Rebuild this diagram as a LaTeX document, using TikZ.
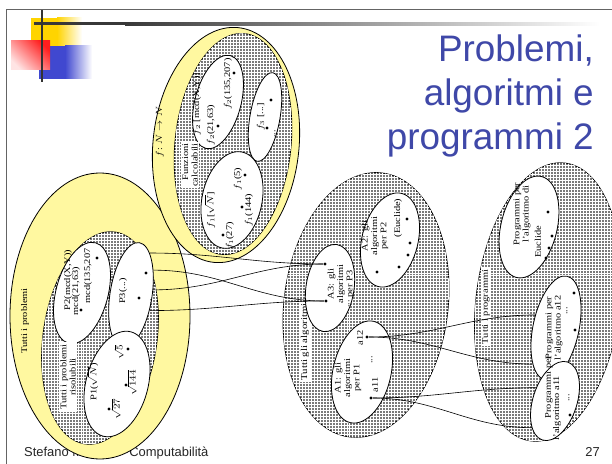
\documentclass[tikz,border=0pt]{standalone}
\usepackage{fontspec}
\setmainfont{Liberation Serif}
\newfontfamily\slidefont{Liberation Sans}
\usetikzlibrary{shapes.geometric,patterns}

\definecolor{ringyellow}{RGB}{255,248,160}
\definecolor{titleblue}{RGB}{63,72,168}
\definecolor{decoyellow}{RGB}{255,212,0}
\definecolor{decoblue}{RGB}{64,72,208}
\definecolor{decored}{RGB}{255,30,30}
\definecolor{framegray}{RGB}{100,100,100}

\newcommand\fsz[1]{\fontsize{#1}{1.08\dimexpr #1pt\relax}\selectfont}

\begin{document}
\begin{tikzpicture}[x=1bp,y=-1bp,
  set/.style={ellipse, draw=black, line width=0.8bp, inner sep=0pt},
  ring/.style={set, fill=ringyellow},
  hatch/.style={set, fill=black!52, postaction={pattern=grid, pattern color=white}},
  sub/.style={set, fill=white},
  lbl/.style={rotate=90, xscale=1.2, inner sep=0.5bp, font=\fsz{8.7}, align=center},
  box/.style={lbl, fill=white, inner sep=1.5bp},
  dot/.style={circle, fill=black, inner sep=0pt, minimum size=3.2bp},
  link/.style={draw=black, line width=0.6bp},
]
\clip (0,0) rectangle (612,464);
\fill[white] (0,0) rectangle (612,464);

% slide frame and corner ornament
\draw[framegray, line width=1bp] (6,464) -- (6,10) -- (612,10);
\fill[decoyellow] (31,18) rectangle (57,47);
\shade[left color=decoyellow, right color=white] (57,18) rectangle (82,47);
\fill[decoblue] (39,46) rectangle (65,79);
\shade[left color=decoblue, right color=white] (65,46) rectangle (92,79);
\shade[top color=decored, bottom color=decored!12, shading angle=-45] (11,41) rectangle (50,70);
\fill[black!78] (34,22.5) rectangle (125,25.5);
\shade[left color=black!78, right color=white] (125,22.5) rectangle (600,25.5);
\fill[black!80] (40.8,10) rectangle (43.4,82);

% title
\node[anchor=base east, font=\slidefont\fsz{37}, text=titleblue, inner sep=0pt] (title1) at (594,62) {Problemi,};
\node[anchor=base east, font=\slidefont\fsz{37}, text=titleblue, inner sep=0pt] (title2) at (594,106) {algoritmi e};
\node[anchor=base east, font=\slidefont\fsz{37}, text=titleblue, inner sep=0pt] (title3) at (594,150) {programmi 2};

% footer
\node[anchor=base west, font=\slidefont\fsz{13}, text=black!85, inner sep=0pt] (footer) at (24,456) {Stefano Mizzaro - Computabilità};
\node[anchor=base east, font=\slidefont\fsz{13}, text=black!85, inner sep=0pt] (pagenum) at (600,456) {27};

% outer sets
\node[ring, minimum width=180bp, minimum height=286bp] (pAll) at (100,316) {};
\node[hatch, minimum width=114bp, minimum height=214bp, rotate=-8] (pSol) at (100,338) {};
\node[ring, minimum width=146bp, minimum height=236bp, rotate=-6] (fAll) at (226,145) {};
\node[hatch, minimum width=116bp, minimum height=222bp, rotate=-6] (fComp) at (233,144) {};
\node[hatch, minimum width=164bp, minimum height=266bp, rotate=-7] (aAll) at (366,305) {};
\node[hatch, minimum width=144bp, minimum height=280bp, rotate=-7] (gAll) at (548,302) {};

\node[lbl] (pAllLab) at (25,321) {Tutti i problemi};
\node[lbl] (fAllLab) at (160,132) {$f$: $N\rightarrow N$};
\node[box, font=\fsz{9}] (aLab) at (305,342) {Tutti gli algoritmi};

% inner sets
\node[sub, minimum width=46bp, minimum height=96bp, rotate=-15] (f2) at (218,102) {};
\node[sub, minimum width=30bp, minimum height=90bp, rotate=-10] (f3) at (265,117) {};
\node[sub, minimum width=60bp, minimum height=98bp, rotate=-12] (f1) at (232,200) {};
\node[sub, minimum width=52bp, minimum height=104bp, rotate=-15] (p2) at (82,293) {};
\node[sub, minimum width=42bp, minimum height=106bp, rotate=-9] (p3) at (131,295) {};
\node[sub, minimum width=62bp, minimum height=108bp, rotate=-15] (p1) at (117,384) {};
\node[sub, minimum width=56bp, minimum height=96bp, rotate=-14] (a2) at (390,240) {};
\node[sub, minimum width=48bp, minimum height=88bp, rotate=-9] (a3) at (330,288) {};
\node[sub, minimum width=58bp, minimum height=104bp, rotate=-13] (a1) at (362,372) {};
\node[sub, minimum width=56bp, minimum height=104bp, rotate=-14] (gE) at (529,227) {};
\node[sub, minimum width=46bp, minimum height=106bp, rotate=-12] (g12) at (556,328) {};
\node[sub, minimum width=44bp, minimum height=82bp, rotate=-18] (g11) at (555,401) {};

\node[box, align=right] (fLab) at (190,165) {Funzioni\\calcolabili};
\node[box] (pLab) at (68,377) {Tutti i problemi\\risolubili};
\node[box] (gLab) at (486,307) {Tutti i programmi};

% computable functions
\node[lbl] (f2a) at (197,104) {$f_2$ [mcd(X,Y)]};
\node[lbl] (f2b) at (211,125) {$f_2$(21,63)};
\node[lbl] (f2c) at (228,84) {$f_2$(135,207)};
\node[dot] (f2d1) at (218,126) {};
\node[dot] (f2d2) at (234,73) {};
\node[lbl] (f3a) at (261,117) {$f_3$ [...]};
\node[dot] (f3d1) at (271,100) {};
\node[dot] (f3d2) at (267,128) {};
\node[lbl] (f3b) at (275,134) {...};
\node[lbl] (f1a) at (210,210) {$f_1$[$\sqrt{N}$]};
\node[lbl] (f1b) at (230,236) {$f_1$(27)};
\node[dot] (f1d1) at (223,235) {};
\node[lbl] (f1c) at (249,210) {$f_1$(144)};
\node[dot] (f1d2) at (242,207) {};
\node[lbl] (f1e) at (238,179) {$f_1$(5)};
\node[dot] (f1d3) at (245,175) {};

% problems
\node[lbl] (p2a) at (68,280) {P2(mcd(X,Y))};
\node[lbl] (p2b) at (76,291) {mcd(21,63)};
\node[lbl] (p2c) at (88,276) {mcd(135,207};
\node[dot] (p2d1) at (81,310) {};
\node[dot] (p2d2) at (97,258) {};
\node[lbl] (p3a) at (123,291) {P3(...)};
\node[dot] (p3d1) at (146,273) {};
\node[dot] (p3d2) at (139,298) {};
\node[lbl] (p3b) at (151,303) {...};
\node[lbl] (p1a) at (93,382) {P1($\sqrt{N}$)};
\node[lbl] (p1b) at (116,409) {$\sqrt{27}$};
\node[dot] (p1d1) at (109,409) {};
\node[lbl] (p1c) at (132,383) {$\sqrt{144}$};
\node[dot] (p1d2) at (126,385) {};
\node[lbl] (p1e) at (119,352) {$\sqrt{5}$};
\node[dot] (p1d3) at (128,349) {};

% algorithms
\node[lbl] (a3a) at (341,284) {A3: gli\\algoritmi\\per P3};
\node[lbl] (a3b) at (349,304) {...};
\node[dot] (a3d1) at (325,264) {};
\node[dot] (a3d2) at (326,301) {};
\node[lbl] (a2a) at (375,236) {A2: gli\\algoritmi\\per P2};
\node[lbl] (a2b) at (398,218) {(Euclide)};
\node[dot] (a2d1) at (377,272) {};
\node[dot] (a2d2) at (399,267) {};
\node[dot] (a2d3) at (408,255) {};
\node[dot] (a2d4) at (410,243) {};
\node[dot] (a2d5) at (407,219) {};
\node[lbl] (a1a) at (348,378) {A1: gli\\algoritmi\\per P1};
\node[lbl] (a12) at (360,338) {a12};
\node[lbl] (a1b) at (372,360) {...};
\node[lbl] (a11) at (375,385) {a11};
\node[dot] (a12d) at (367,337) {};
\node[dot] (a11d) at (371,398) {};

% programs
\node[lbl] (gEa) at (522,214) {Programmi per\\l'algoritmo di};
\node[lbl] (gEb) at (538,242) {Euclide};
\node[dot] (gEd1) at (548,212) {};
\node[dot] (gEd2) at (552,236) {};
\node[dot] (gEd3) at (549,248) {};
\node[dot] (gEd4) at (546,258) {};
\node[lbl] (g12a) at (554,328) {Programmi per\\l'algoritmo a12};
\node[lbl] (g12b) at (567,311) {...};
\node[dot] (g12d1) at (574,293) {};
\node[dot] (g12d2) at (575,330) {};
\node[lbl] (g11a) at (549,387) {Programmi per};
\node[lbl] (g11b) at (557,408) {l'algoritmo a11};
\node[lbl] (g11c) at (569,398) {...};
\node[dot] (g11d) at (570,415) {};

% correspondences
\draw[link] (a3d1) to[out=180,in=0] (p3.75);
\draw[link] (a3d1) to[out=180,in=0] (p3.22);
\draw[link] (a3d2) to[out=180,in=0] (p3.57);
\draw[link] (a3d2) to[out=180,in=0] (p3.329);
\draw[link] (a12d) to[out=0,in=180] (g12.160);
\draw[link] (a12d) to[out=0,in=180] (g12.249);
\draw[link] (a11d) to[out=0,in=180] (g11.163);
\draw[link] (a11d) to[out=0,in=180] (g11.247);
\end{tikzpicture}
\end{document}
